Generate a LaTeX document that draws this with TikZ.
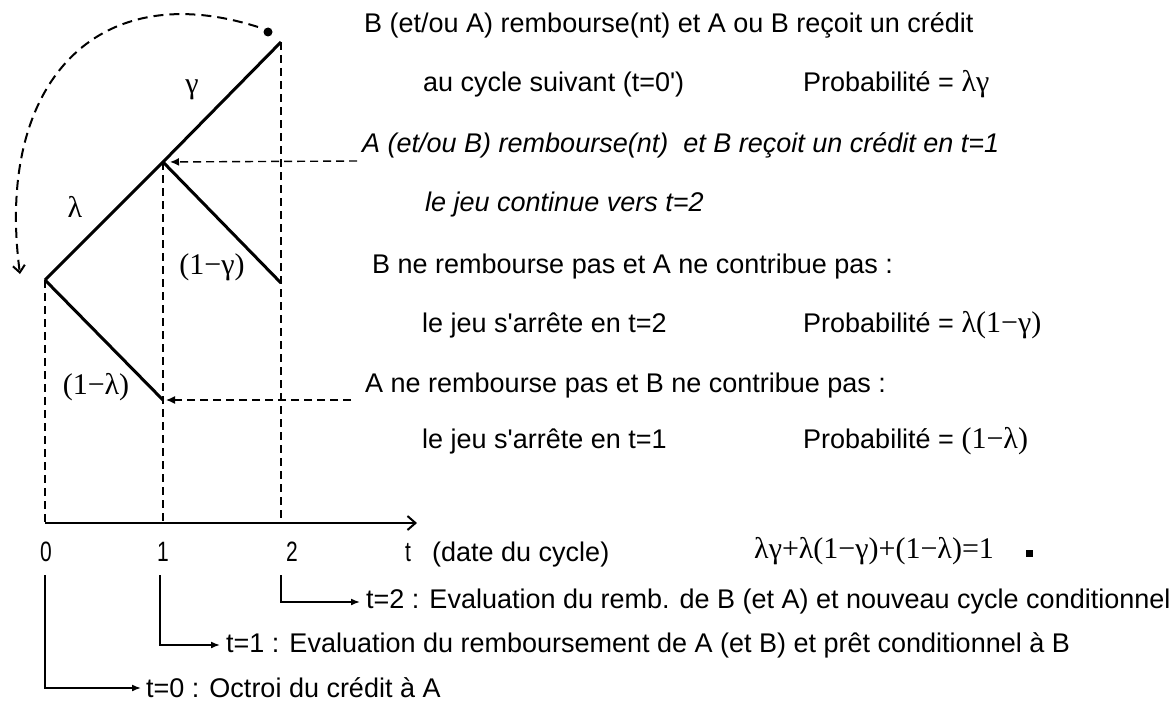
\documentclass[tikz,border=0pt]{standalone}
\usepackage{fontspec}
\setmainfont{Liberation Sans}
\newfontfamily\serifgr{Liberation Serif}
\usetikzlibrary{arrows.meta}
\begin{document}
\begin{tikzpicture}[x=1pt,y=-1pt,
  branch/.style={line width=3pt},
  guide/.style={line width=1.4pt, dash pattern=on 8pt off 5pt},
  dasharrow/.style={guide, -{Latex[length=9pt,width=8pt]}},
  loopline/.style={line width=2pt, dash pattern=on 10pt off 6pt, -{Straight Barb[length=7pt,width=12pt,line width=2pt]}},
  axisline/.style={line width=2.5pt, -{Straight Barb[length=8pt,width=14pt,line width=2pt]}},
  legline/.style={line width=1.6pt, -{Latex[length=9pt,width=7pt]}},
  txt/.style={anchor=base west, inner sep=0pt, font=\fontsize{27}{30}\selectfont},
  itxt/.style={txt, font=\fontsize{27}{30}\selectfont\itshape},
  legtxt/.style={anchor=west, inner sep=0pt, font=\fontsize{27}{30}\selectfont},
  gr/.style={inner sep=0pt, font=\fontsize{30}{33}\selectfont\serifgr},
  tick/.style={anchor=base, inner sep=0pt, font=\fontsize{28}{30}\selectfont}
]
\useasboundingbox (0,0) rectangle (1172,717);

% tree points
\coordinate (O) at (45,280);
\coordinate (P) at (163,162);
\coordinate (Q) at (281,42);
\coordinate (R) at (281,283);
\coordinate (S) at (163,400);
\coordinate (O0) at (45,523);
\coordinate (P0) at (163,523);
\coordinate (Q0) at (281,523);
\coordinate (AX) at (417,523);
\coordinate (H1) at (357,161);
\coordinate (H2) at (351,400);

% dashed guides
\draw[guide] (O) -- (O0);
\draw[guide] (P) -- (P0);
\draw[guide] (Q) -- (Q0);

% branches
\draw[branch] (O) -- (P) -- (Q);
\draw[branch] (P) -- (R);
\draw[branch] (O) -- (S);

% horizontal dashed arrows
\draw[dasharrow, shorten >=7pt] (H1) -- (P);
\draw[dasharrow, shorten >=3pt] (H2) -- (S);

% dot and loop
\node[circle, fill, inner sep=0pt, minimum size=9pt] (dot) at (268,32) {};
\coordinate (LA) at (258,27);
\coordinate (LB) at (20,274);
\draw[loopline] (LA) .. controls (95,-25) and (-5,85) .. (LB);

% axis
\draw[axisline] (O0) -- (AX);

% branch labels
\node[gr] (lg) at (192,90) {γ};
\node[gr] (ll) at (75,207) {λ};
\node[gr] (l1g) at (212,267) {(1−γ)};
\node[gr] (l1l) at (96,387) {(1−λ)};

% ticks
\node[tick] (t0) at (46,561) {\scalebox{0.75}[1]{0}};
\node[tick] (t1) at (163,561) {\scalebox{0.75}[1]{1}};
\node[tick] (t2) at (292,561) {\scalebox{0.75}[1]{2}};
\node[tick] (tt) at (408,561) {\scalebox{0.75}[1]{t}};
\node[txt] (date) at (432,561) {(date du cycle)};

% formula
\node[anchor=base west, inner sep=0pt, font=\fontsize{30}{33}\selectfont\serifgr] (sum) at (754,558) {λγ+λ(1−γ)+(1−λ)=1};
\node[fill, inner sep=0pt, minimum size=7pt] (qed) at (1029,553) {};

% right texts
\node[txt] (r1) at (364,33) {B (et/ou A) rembourse(nt) et A ou B reçoit un crédit};
\node[txt] (r2) at (423,92) {au cycle suivant (t=0\textquotesingle)};
\node[txt] (p1) at (803,92) {Probabilité = {\fontsize{30}{33}\selectfont\serifgr λγ}};
\node[itxt] (r3) at (362,152) {A (et/ou B) rembourse(nt) \ et B reçoit un crédit en t=1};
\node[itxt] (r4) at (425,211) {le jeu continue vers t=2};
\node[txt] (r5) at (372,273) {B ne rembourse pas et A ne contribue pas :};
\node[txt] (r6) at (422,332) {le jeu s\textquotesingle arrête en t=2};
\node[txt] (p2) at (803,332) {Probabilité = {\fontsize{30}{33}\selectfont\serifgr λ(1−γ)}};
\node[txt] (r7) at (365,392) {A ne rembourse pas et B ne contribue pas :};
\node[txt] (r8) at (422,448) {le jeu s\textquotesingle arrête en t=1};
\node[txt] (p3) at (803,448) {Probabilité = {\fontsize{30}{33}\selectfont\serifgr (1−λ)}};

% bottom legend
\node[legtxt] (b2) at (366,602) {t=2 : Evaluation du remb. de B (et A) et nouveau cycle conditionnel};
\node[legtxt] (b1) at (226,645) {t=1 : Evaluation du remboursement de A (et B) et prêt conditionnel à B};
\node[legtxt] (b0) at (146,688) {t=0 : Octroi du crédit à A};
\coordinate (v2) at (281,575);
\coordinate (v1) at (160,575);
\coordinate (v0) at (45,575);
\draw[legline, shorten >=6pt] (v2) |- (b2.west);
\draw[legline, shorten >=6pt] (v1) |- (b1.west);
\draw[legline, shorten >=5pt] (v0) |- (b0.west);
\end{tikzpicture}
\end{document}
